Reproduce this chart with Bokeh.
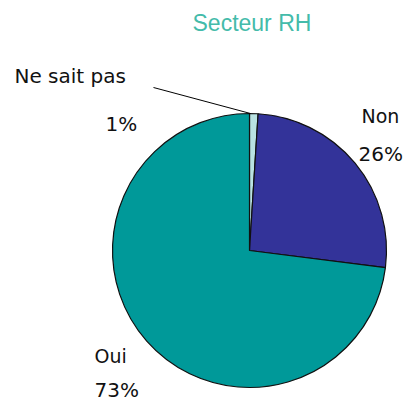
import math
from bokeh.plotting import figure
from bokeh.models import Range1d, ColumnDataSource
from bokeh.core.properties import value
from bokeh.embed import file_html
from bokeh.resources import INLINE

# Data (clockwise from 12 o'clock)
categories = ["Ne sait pas", "Non", "Oui"]
percents = [1, 26, 73]
colors = ["#b9e2e2", "#333399", "#009999"]
title_text = "Secteur RH"

W, H = 405, 400
p = figure(width=W, height=H, output_backend="svg", toolbar_location=None,
           x_range=Range1d(0, W), y_range=Range1d(0, H), min_border=0)
p.axis.visible = False
p.grid.visible = False
p.outline_line_color = None
p.background_fill_color = "white"
p.border_fill_color = "white"

def py(Y):  # screen y -> data y
    return H - Y

def px(X):
    return X

cx, cy, r = px(249), py(250), 137
total = sum(percents)
starts, ends = [], []
acc = 0
for v in percents:
    starts.append(math.pi / 2 - 2 * math.pi * acc / total)
    acc += v
    ends.append(math.pi / 2 - 2 * math.pi * acc / total)

src = ColumnDataSource(dict(start=starts, end=ends, color=colors, cat=categories))
p.wedge(x=cx, y=cy, radius=r, start_angle="start", end_angle="end",
        direction="clock", fill_color="color", line_color="#111111",
        line_width=1.2, source=src)

# leader line for "Ne sait pas"
p.line([px(153), px(250)], [py(87), py(113)], line_color="black", line_width=1)

# Title
p.text([px(192)], [py(22)], text=[title_text], text_font=value("Liberation Sans"),
       text_font_size="23px", text_color="#44bbaa", text_baseline="alphabetic")

dy = 7
labels = [
    (categories[0], 14, 82, "20px"),
    (f"{percents[0]}%", 105, 130, "20px"),
    (categories[1], 361, 122, "19px"),
    (f"{percents[1]}%", 358, 160, "20px"),
    (categories[2], 94, 362, "19px"),
    (f"{percents[2]}%", 94, 396, "20px"),
]
for t, X, Y, fs in labels:
    p.text([px(X)], [py(Y - dy)], text=[t], text_font=value("DejaVu Sans"),
           text_font_size=fs, text_color="#111111", text_baseline="alphabetic")

open("out.html", "w").write(file_html(p, INLINE))
